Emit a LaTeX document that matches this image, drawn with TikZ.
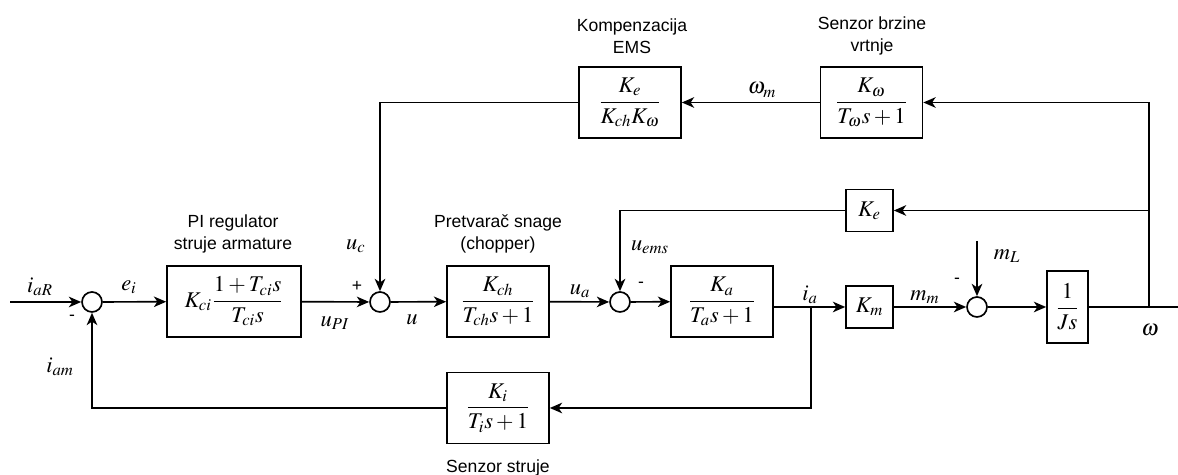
\documentclass[tikz,border=0pt]{standalone}
\usepackage{amsmath}
\usepackage{mathptmx}
\usepackage[no-math]{fontspec}
\setmainfont{Liberation Sans}
\usetikzlibrary{arrows.meta,calc}
\tikzset{
  blk/.style={draw, line width=0.95pt, minimum width=2.04cm, minimum height=1.42cm, inner sep=0pt, font=\fontsize{12.8}{14}\selectfont},
  sblk/.style={draw, line width=0.95pt, minimum width=0.94cm, minimum height=0.84cm, inner sep=0pt, font=\fontsize{12.8}{14}\selectfont},
  sumc/.style={circle, draw, line width=0.95pt, minimum size=0.4cm, inner sep=0pt},
  lbl/.style={inner sep=0pt, font=\fontsize{12.8}{14}\selectfont},
  sgn/.style={inner sep=0pt, font=\fontsize{10}{12}\selectfont},
  ttl/.style={inner sep=0pt, align=center, font=\fontsize{10}{12.5}\selectfont},
  con/.style={line width=0.95pt},
  arr/.style={con, -{Stealth[length=7pt,width=6pt,inset=2pt]}}
}
\begin{document}
\begin{tikzpicture}[x=0.02cm,y=-0.02cm]
\useasboundingbox (0,0) rectangle (1178,475);
% sums
\node[sumc] (s1) at (92,302) {};
\node[sumc] (s2) at (380,302) {};
\node[sumc] (s3) at (620,302) {};
\node[sumc] (s4) at (977,307) {};
% blocks
\node[blk, minimum width=2.68cm] (pi) at (234,301.5) {$K_{ci}\dfrac{1+T_{ci}s}{T_{ci}s}$};
\node[blk] (ch) at (498,301.5) {$\dfrac{K_{ch}}{T_{ch}s+1}$};
\node[blk] (ka) at (722,301.5) {$\dfrac{K_{a}}{T_{a}s+1}$};
\node[sblk] (km) at (869.5,307) {$K_m$};
\node[blk, minimum width=0.82cm, minimum height=1.44cm] (js) at (1067.5,307) {$\dfrac{1}{Js}$};
\node[blk] (si) at (498,408) {$\dfrac{K_{i}}{T_{i}s+1}$};
\node[blk] (sw) at (871.5,102.5) {$\dfrac{K_{\omega}}{T_{\omega}s+1}$};
\node[blk] (ke) at (630,102.5) {$\dfrac{K_{e}}{K_{ch}K_{\omega}}$};
\node[sblk] (kes) at (869.5,210.5) {$K_e$};
% coordinates
\coordinate (in) at (10,302);
\coordinate (ia) at (811,307);
\coordinate (w) at (1149,307);
\coordinate (out) at (1178,307);
\coordinate (ml) at (977,241);
% connectors
\draw[arr] (in) -- (s1);
\draw[arr] (s1) -- (pi);
\draw[arr] (pi) -- (s2);
\draw[arr] (s2) -- (ch);
\draw[arr] (ch) -- (s3);
\draw[arr] (s3) -- (ka);
\draw[con] (ka.east |- ia) -- (ia);
\draw[arr] (ia) -- (km);
\draw[arr] (km) -- (s4);
\draw[arr] (s4) -- (js);
\draw[con] (js) -- (out);
\draw[arr] (ml) -- (s4);
\draw[arr] (ia) |- (si);
\draw[arr] (si) -| (s1);
\draw[arr] (w) |- (sw);
\draw[arr] (w |- kes) -- (kes);
\draw[arr] (kes) -| (s3);
\draw[arr] (sw) -- (ke);
\draw[arr] (ke) -| (s2);
% labels
\node[lbl] at (40,287) {$i_{aR}$};
\node[sgn] at (72,318) {-};
\node[lbl] at (129,287) {$e_i$};
\node[lbl] at (335,323) {$u_{PI}$};
\node[sgn] at (357,286) {+};
\node[lbl] at (356,246) {$u_c$};
\node[lbl] at (412,320) {$u$};
\node[lbl] at (580,291) {$u_a$};
\node[lbl] at (650,247) {$u_{ems}$};
\node[sgn] at (641,285) {-};
\node[lbl] at (810,295) {$i_a$};
\node[lbl] at (925,297) {$m_m$};
\node[lbl] at (1007,256) {$m_L$};
\node[sgn] at (957,281) {-};
\node[lbl] at (1150,330) {$\omega$};
\node[lbl] at (762,90) {$\omega_m$};
\node[lbl] at (60,367) {$i_{am}$};
% titles
\node[ttl] at (233,234) {PI regulator\\struje armature};
\node[ttl] at (498,234) {Pretvarač snage\\(chopper)};
\node[ttl] at (632,36) {Kompenzacija\\EMS};
\node[ttl] at (872,36) {Senzor brzine\\vrtnje};
\node[ttl] at (498,468) {Senzor struje};
\end{tikzpicture}
\end{document}
